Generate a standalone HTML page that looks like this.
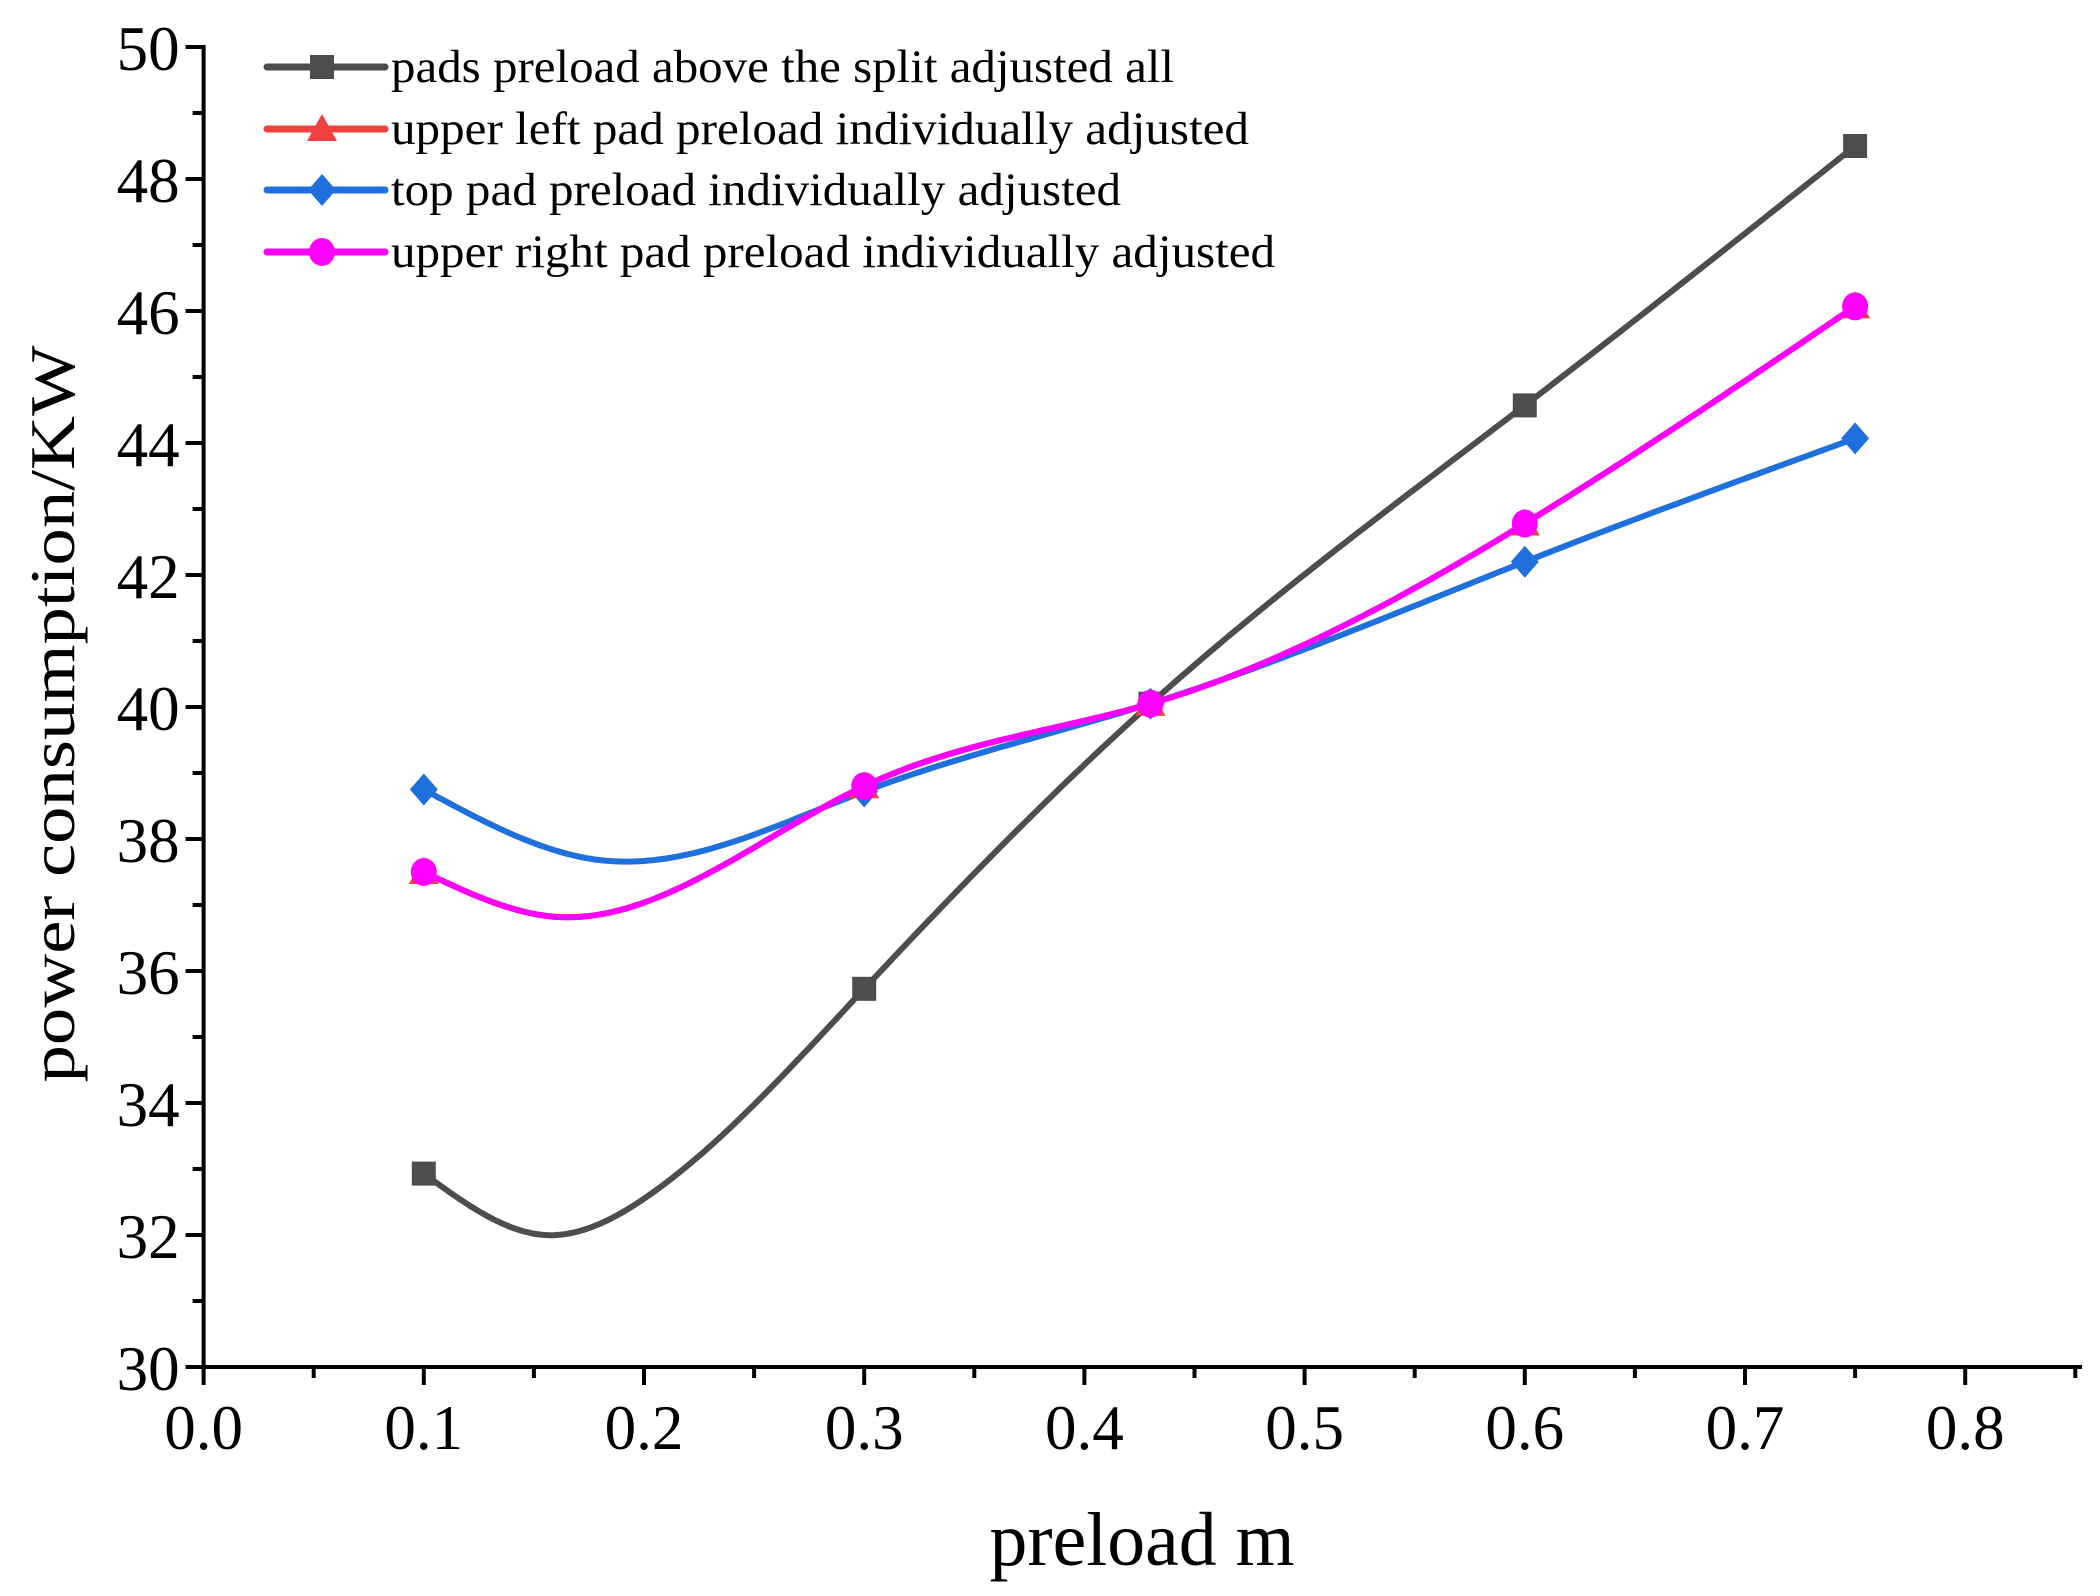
<!DOCTYPE html>
<html><head><meta charset="utf-8"><style>
html,body{margin:0;padding:0;background:#fff;}
svg{display:block;}
text{font-family:"Liberation Serif",serif;fill:#000;}
</style></head><body>
<svg id="s" width="2100" height="1596" viewBox="0 0 2100 1596" xmlns="http://www.w3.org/2000/svg"></svg>
<script>
const s=document.getElementById('s');
const L=203.6,R=2082,T=47,B=1367;
const X=v=>L+v*2202, Y=v=>B-(v-30)*66;
let h='';
h+=`<line x1="${L}" y1="${T-2}" x2="${L}" y2="${B+2}" stroke="#000" stroke-width="4"/>`;
h+=`<line x1="${L-2}" y1="${B}" x2="${R}" y2="${B}" stroke="#000" stroke-width="4"/>`;
for(let v=30;v<=50;v++){const y=Y(v);const maj=v%2==0;
 h+=`<line x1="${L-(maj?18:11)}" y1="${y}" x2="${L}" y2="${y}" stroke="#000" stroke-width="4"/>`;
 if(maj)h+=`<text x="${L-24}" y="${y+2}" font-size="63" text-anchor="end" dominant-baseline="central">${v}</text>`;}
for(let i=0;i<=17;i++){const v=i*0.05;const x=X(v);if(x>R+1)break;const maj=i%2==0;
 h+=`<line x1="${x}" y1="${B}" x2="${x}" y2="${B+(maj?18:11)}" stroke="#000" stroke-width="4"/>`;
 if(maj)h+=`<text x="${x}" y="${B+82}" font-size="63" text-anchor="middle">${v.toFixed(1)}</text>`;}
h+=`<text x="1142" y="1565" font-size="76" text-anchor="middle" textLength="305" lengthAdjust="spacingAndGlyphs">preload m</text>`;
h+=`<text transform="translate(74,714) rotate(-90)" font-size="64" text-anchor="middle" textLength="737" lengthAdjust="spacingAndGlyphs">power consumption/KW</text>`;
function spline(xs,ys){const n=xs.length;const hh=[],al=[],l=[1],mu=[0],z=[0],c=new Array(n).fill(0),b=[],d=[];
 for(let i=0;i<n-1;i++)hh[i]=xs[i+1]-xs[i];
 for(let i=1;i<n-1;i++)al[i]=3/hh[i]*(ys[i+1]-ys[i])-3/hh[i-1]*(ys[i]-ys[i-1]);
 for(let i=1;i<n-1;i++){l[i]=2*(xs[i+1]-xs[i-1])-hh[i-1]*mu[i-1];mu[i]=hh[i]/l[i];z[i]=(al[i]-hh[i-1]*z[i-1])/l[i];}
 for(let j=n-2;j>=0;j--){c[j]=z[j]-mu[j]*c[j+1];if(j==0)c[0]=0;b[j]=(ys[j+1]-ys[j])/hh[j]-hh[j]*(c[j+1]+2*c[j])/3;d[j]=(c[j+1]-c[j])/(3*hh[j]);}
 let p='';for(let j=0;j<n-1;j++){for(let k=0;k<=40;k++){const t=hh[j]*k/40;const v=ys[j]+b[j]*t+c[j]*t*t+d[j]*t*t*t;p+=(p?'L':'M')+X(xs[j]+t).toFixed(1)+','+Y(v).toFixed(1);}}return p;}
const xs=[0.1,0.3,0.43,0.6,0.75];
const S=[
 {c:'#4d4d4d',m:'sq',y:[32.93,35.73,40.05,44.57,48.5],ex:[[0.155,32.0],[0.2,32.55]]},
 {c:'#1f6fdc',m:'di',y:[38.75,38.72,40.05,42.2,44.07],ex:[[0.18,37.68]]},
 {c:'#f04040',m:'tr',y:[37.5,38.8,40.05,42.78,46.07],ex:[[0.16,36.82]]},
 {c:'#ff00ff',m:'ci',y:[37.5,38.8,40.05,42.78,46.07],ex:[[0.16,36.82]]}];
function mk(t,x,y,c){if(t=='sq')return `<rect x="${x-12}" y="${y-12}" width="24" height="24" fill="${c}"/>`;
 if(t=='di')return `<polygon points="${x},${y-16} ${x+14},${y} ${x},${y+16} ${x-14},${y}" fill="${c}"/>`;
 if(t=='tr')return `<polygon points="${x},${y-15} ${x+15},${y+12} ${x-15},${y+12}" fill="${c}"/>`;
 return `<ellipse cx="${x}" cy="${y}" rx="13" ry="14" fill="${c}"/>`;}
for(const o of S){let pts=xs.map((x,i)=>[x,o.y[i]]).concat(o.ex).sort((a,b)=>a[0]-b[0]);
 h+=`<path d="${spline(pts.map(p=>p[0]),pts.map(p=>p[1]))}" fill="none" stroke="${o.c}" stroke-width="6"/>`;
 xs.forEach((x,i)=>h+=mk(o.m,X(x),Y(o.y[i]),o.c));}
const Lg=[['#4d4d4d','sq','pads preload above the split adjusted all',783],
 ['#f04040','tr','upper left pad preload individually adjusted',858],
 ['#1f6fdc','di','top pad preload individually adjusted',730],
 ['#ff00ff','ci','upper right pad preload individually adjusted',884]];
const ly=[67,129,190,252];
Lg.forEach((g,i)=>{const y=ly[i];h+=`<line x1="267" y1="${y}" x2="385" y2="${y}" stroke="${g[0]}" stroke-width="7" stroke-linecap="round"/>`;
 h+=mk(g[1],322,y,g[0]);
 h+=`<text x="391" y="${y+15}" font-size="47" textLength="${g[3]}" lengthAdjust="spacingAndGlyphs">${g[2]}</text>`;});
s.innerHTML=h;
</script>
</body></html>
